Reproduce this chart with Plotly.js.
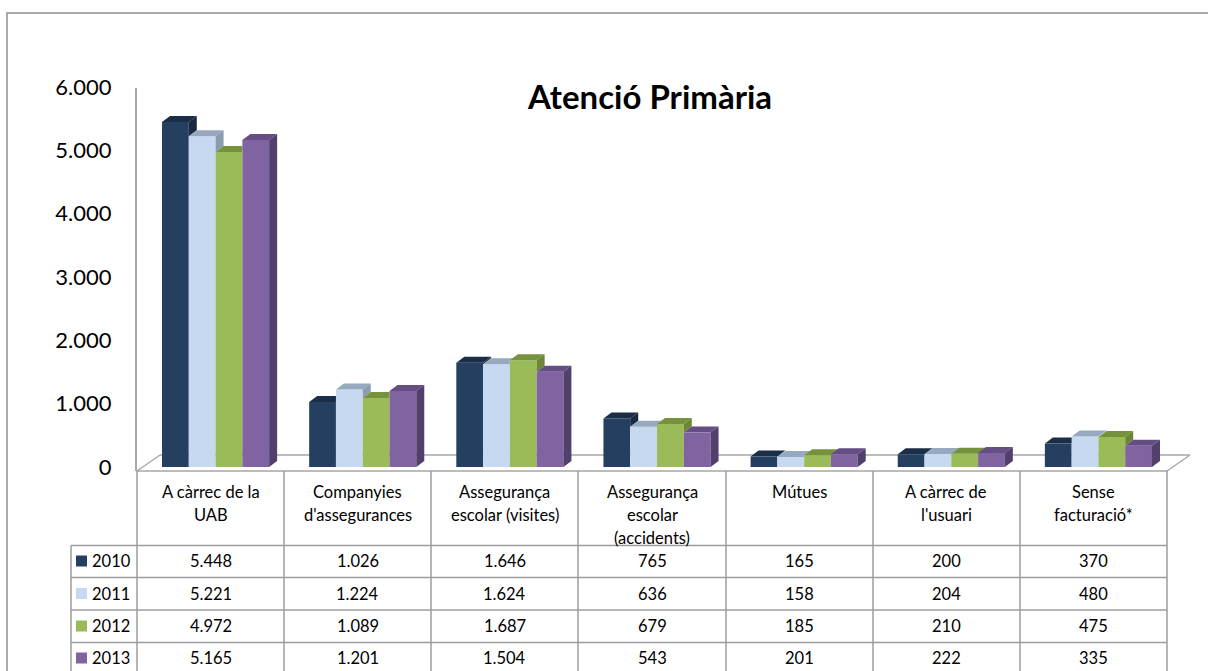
<!DOCTYPE html>
<html>
<head>
<meta charset="utf-8">
<script src="https://cdn.plot.ly/plotly-3.0.1.min.js"></script>
<style>html,body{margin:0;padding:0;background:#fff;}#chart{width:1208px;height:671px;}</style>
</head>
<body>
<div id="chart"></div>
<script>
// ---- data ----
const categories = [
  "A càrrec de la<br>UAB",
  "Companyies<br>d'assegurances",
  "Assegurança<br>escolar (visites)",
  "Assegurança<br>escolar<br>(accidents)",
  "Mútues",
  "A càrrec de<br>l'usuari",
  "Sense<br>facturació*"
];
const years = ["2010", "2011", "2012", "2013"];
const v2010 = [5448, 1026, 1646, 765, 165, 200, 370];
const v2011 = [5221, 1224, 1624, 636, 158, 204, 480];
const v2012 = [4972, 1089, 1687, 679, 185, 210, 475];
const v2013 = [5165, 1201, 1504, 543, 201, 222, 335];
const yTicks = [0, 1000, 2000, 3000, 4000, 5000, 6000];
const chartTitle = "Atenció Primària";

// ---- styles ----
const series = [v2010, v2011, v2012, v2013];
const frontCol = ["#243F60", "#C6D9F1", "#9BBB59", "#8064A2"];
const topCol   = ["#1B2E47", "#97A9BE", "#76923C", "#654E86"];
const sideCol  = ["#182A40", "#8A9CB0", "#6B8635", "#523F6C"];
const FONT = "Lato, 'Open Sans', sans-serif";
const L = 137, R = 41, T = 87, B = 204, W = 1208, H = 671;
const PW = W - L - R, PH = H - T - B;
const BAR_W = 0.182, GROUP_OFF = -0.33;
const DX = 8 / (PW / 7), DY = 6 / (PH / 6000);
const px = x => (x - L) / PW;          // pixel -> paper x
const py = y => (H - B - y) / PH;      // pixel -> paper y

function clip(poly, f) {
  const out = [];
  for (let i = 0; i < poly.length; i++) {
    const a = poly[i], b = poly[(i + 1) % poly.length];
    const fa = f(a), fb = f(b);
    if (fa >= 0) out.push(a);
    if ((fa >= 0) !== (fb >= 0)) {
      const t = fa / (fa - fb);
      out.push([a[0] + t * (b[0] - a[0]), a[1] + t * (b[1] - a[1])]);
    }
  }
  return out;
}

const traces = [];
// front faces as bars
series.forEach((vals, j) => {
  traces.push({
    type: "bar", name: years[j],
    x: vals.map((_, i) => i), y: vals,
    width: BAR_W, offset: GROUP_OFF + j * BAR_W,
    marker: {color: frontCol[j], line: {width: 0}},
    showlegend: false, hoverinfo: "y"
  });
});
// 3D top and side faces
series.forEach((vals, j) => {
  const tx = [], ty = [], sx = [], sy = [];
  const push = (poly, ax, ay) => {
    if (poly.length < 3) return;
    poly.forEach(p => { ax.push(p[0]); ay.push(p[1]); });
    ax.push(poly[0][0]); ay.push(poly[0][1]);
    ax.push(null); ay.push(null);
  };
  vals.forEach((h, c) => {
    const l = c + GROUP_OFF + j * BAR_W, r = l + BAR_W;
    const top = [[l, h], [r, h], [r + DX, h + DY], [l + DX, h + DY]];
    if (j < 3) {
      const hn = series[j + 1][c];
      push(clip(top, p => r - p[0]), tx, ty);
      push(clip(clip(top, p => p[0] - r), p => p[1] - hn), tx, ty);
      if (hn < h) push([[r, hn], [r + DX, hn + DY], [r + DX, h + DY], [r, h]], sx, sy);
    } else {
      push(top, tx, ty);
      push([[r, 0], [r + DX, DY], [r + DX, h + DY], [r, h]], sx, sy);
    }
  });
  traces.push({type: "scatter", mode: "lines", x: tx, y: ty, fill: "toself",
    fillcolor: topCol[j], line: {width: 0, color: topCol[j]}, hoverinfo: "skip", showlegend: false});
  traces.push({type: "scatter", mode: "lines", x: sx, y: sy, fill: "toself",
    fillcolor: sideCol[j], line: {width: 0, color: sideCol[j]}, hoverinfo: "skip", showlegend: false});
});

const fmt = v => String(v).replace(/\B(?=(\d{3})+(?!\d))/g, ".");

const shapes = [];
const annotations = [];
const LINE = "#9C9C9C";
const ln = (x0, y0, x1, y1, color, w, layer) => shapes.push({type: "line", xref: "paper", yref: "paper",
  x0: px(x0), y0: py(y0), x1: px(x1), y1: py(y1), line: {color: color || LINE, width: w || 1.5}, layer: layer || "above"});

// outer frame
shapes.push({type: "rect", xref: "paper", yref: "paper", x0: px(7), y0: py(13), x1: px(1230), y1: py(700),
  line: {color: "#8E8E8E", width: 1.5}, layer: "below"});
// value axis line
ln(136, 88, 136, 471, "#8C8C8C", 1.5, "below");
// floor
ln(160, 455, 1190, 455, "#A6A6A6", 1.5, "below");
ln(1190, 455, 1167, 471, "#A6A6A6", 1.5, "below");
ln(137, 471, 160, 455, "#A6A6A6", 1.5, "below");
ln(136, 471, 1167, 471, "#A6A6A6", 1.5, "below");

// table grid
const colX = [137, 284, 431, 578, 726, 873, 1020, 1167];
colX.forEach(x => ln(x, 471, x, 700));
ln(71, 545.5, 71, 700);
const rowY = [545.5, 577.5, 610, 642.5, 675];
rowY.forEach(y => ln(71, y, 1167, y));

// header texts
const headLineY = [492, 515, 538];
categories.forEach((lab, c) => {
  lab.split("<br>").forEach((t, k) => {
    annotations.push({xref: "x", yref: "paper", x: c, y: py(headLineY[k]), text: t, showarrow: false,
      xanchor: "center", yanchor: "middle", font: {family: FONT, size: 16.5, color: "#000"}});
  });
});
// data rows
const rowCY = [561, 593.5, 626, 658];
series.forEach((vals, j) => {
  shapes.push({type: "rect", xref: "paper", yref: "paper", x0: px(76), x1: px(87),
    y0: py(rowCY[j] + 5.5), y1: py(rowCY[j] - 5.5), fillcolor: frontCol[j], line: {width: 0}});
  annotations.push({xref: "paper", yref: "paper", x: px(89.5), y: py(rowCY[j]), text: years[j], showarrow: false,
    xanchor: "left", yanchor: "middle", font: {family: FONT, size: 16.5, color: "#000"}});
  vals.forEach((v, c) => {
    annotations.push({xref: "x", yref: "paper", x: c, y: py(rowCY[j]), text: fmt(v), showarrow: false,
      xanchor: "center", yanchor: "middle", font: {family: FONT, size: 16.5, color: "#000"}});
  });
});

const layout = {
  width: W, height: H,
  margin: {l: L, r: R, t: T, b: B, pad: 0},
  paper_bgcolor: "#fff", plot_bgcolor: "rgba(0,0,0,0)",
  separators: ",.",
  barmode: "overlay",
  showlegend: false,
  title: {text: chartTitle, x: px(650), xref: "paper", xanchor: "center", y: 1 - 97 / H, yref: "container", yanchor: "middle",
    font: {family: FONT, size: 33, color: "#000", weight: "bold"}},
  xaxis: {range: [-0.5, 6.5], showticklabels: false, showgrid: false, zeroline: false, showline: false, fixedrange: true},
  yaxis: {range: [0, 6000], tickvals: yTicks, tickformat: ",", ticks: "outside", ticklen: 20, tickcolor: "rgba(0,0,0,0)",
    showgrid: false, zeroline: false, showline: false, fixedrange: true,
    tickfont: {family: FONT, size: 22, color: "#000"}},
  shapes: shapes,
  annotations: annotations
};

Plotly.newPlot("chart", traces, layout, {displayModeBar: false, staticPlot: true});
</script>
</body>
</html>
